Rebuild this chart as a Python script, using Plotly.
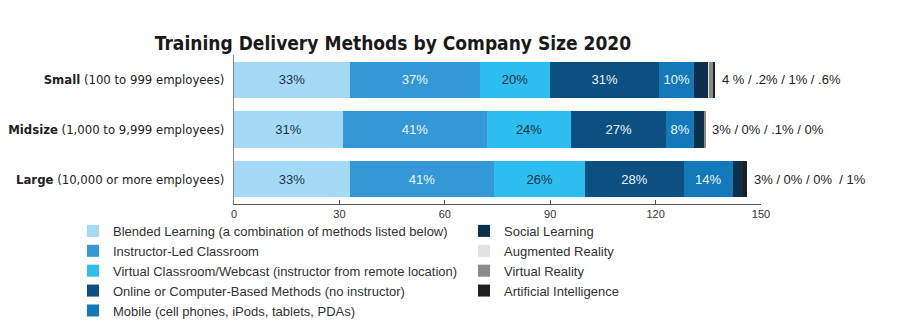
import plotly.graph_objects as go

# Company size groups and their y-axis labels
sizes = ["Small", "Midsize", "Large"]
size_ranges = ["(100 to 999 employees)", "(1,000 to 9,999 employees)", "(10,000 or more employees)"]

# Share of training hours by delivery method (percent)
methods = [
    "Blended Learning (a combination of methods listed below)",
    "Instructor-Led Classroom",
    "Virtual Classroom/Webcast (instructor from remote location)",
    "Online or Computer-Based Methods (no instructor)",
    "Mobile (cell phones, iPods, tablets, PDAs)",
    "Social Learning",
    "Augmented Reality",
    "Virtual Reality",
    "Artificial Intelligence",
]
blended = [33, 31, 33]
instructor_led = [37, 41, 41]
virtual_classroom = [20, 24, 26]
online_cbt = [31, 27, 28]
mobile = [10, 8, 14]
social = [4, 3, 3]
augmented = [0.2, 0, 0]
virtual_reality = [1, 0.1, 0]
artificial_intel = [0.6, 0, 1]

# Social / AR / VR / AI shares listed to the right of each bar
tail_labels = ["4 % / .2% / 1% / .6%", "3% / 0% / .1% / 0%", "3% / 0% / 0%  / 1%"]

x_ticks = [0, 30, 60, 90, 120, 150]

series = [blended, instructor_led, virtual_classroom, online_cbt, mobile,
          social, augmented, virtual_reality, artificial_intel]
colors = ["#a5daf6", "#3498d6", "#2dbdee", "#0b5080", "#1379b8",
          "#0c2f4b", "#e2e2e2", "#8b8b8b", "#221e1f"]
label_colors = ["#1d3347", "#eaf5fc", "#1d3347", "#eaf5fc", "#eaf5fc"]

SANS = "Liberation Sans, Arial, sans-serif"
NARROW = "Liberation Sans Narrow, Arial Narrow, DejaVu Sans Condensed, sans-serif"

fig = go.Figure()
for i, (name, vals, col) in enumerate(zip(methods, series, colors)):
    labelled = i < 5
    fig.add_trace(go.Bar(
        y=sizes,
        x=vals,
        name=name,
        orientation="h",
        marker=dict(color=col, line=dict(width=0)),
        text=[f"{v}%" for v in vals] if labelled else None,
        textposition="inside" if labelled else "none",
        insidetextanchor="middle",
        textangle=0,
        constraintext="none",
        textfont=dict(family=SANS, size=13, color=label_colors[i] if labelled else "#000"),
        legend="legend" if i < 5 else "legend2",
        hoverinfo="name+x",
    ))

# Tail annotations anchored at each bar's total length
totals = [sum(s[k] for s in series) for k in range(len(sizes))]
for size, total, txt in zip(sizes, totals, tail_labels):
    fig.add_annotation(
        x=total, y=size, xref="x", yref="y",
        text=txt, showarrow=False, xanchor="left", xshift=5,
        font=dict(family=SANS, size=13, color="#222222"),
    )

tick_text = [f"<b>{s}</b> {r}" for s, r in zip(sizes, size_ranges)]

fig.update_layout(
    width=901, height=334,
    margin=dict(l=234, r=140, t=55, b=130, autoexpand=False),
    paper_bgcolor="white", plot_bgcolor="white",
    barmode="stack", bargap=0.27,
    title=dict(
        text="<b>Training Delivery Methods by Company Size 2020</b>",
        font=dict(family=NARROW, size=19, color="#1a1a1a"),
        xref="container", yref="container",
        x=393 / 901, y=1 - 43 / 334, xanchor="center", yanchor="middle",
    ),
    xaxis=dict(
        range=[0, 150], tickvals=x_ticks, ticks="inside", ticklen=4,
        tickcolor="#555", showline=True, linecolor="#555", linewidth=1,
        showgrid=False, zeroline=False, automargin=False,
        tickfont=dict(family=SANS, size=11, color="#333"),
    ),
    yaxis=dict(
        categoryorder="array", categoryarray=sizes, autorange="reversed",
        tickvals=sizes, ticktext=tick_text, ticks="", showline=True,
        linecolor="#888", linewidth=1, showgrid=False, zeroline=False,
        ticklabelstandoff=6, automargin=False,
        tickfont=dict(family=NARROW, size=13, color="#222"),
    ),
    legend=dict(
        x=(73 - 234) / 527, y=-0.08, xanchor="left", yanchor="top",
        orientation="v", traceorder="normal",
        font=dict(family=SANS, size=13, color="#333"),
        bgcolor="rgba(0,0,0,0)", tracegroupgap=0,
    ),
    legend2=dict(
        x=(464 - 234) / 527, y=-0.08, xanchor="left", yanchor="top",
        orientation="v", traceorder="normal",
        font=dict(family=SANS, size=13, color="#333"),
        bgcolor="rgba(0,0,0,0)", tracegroupgap=0,
    ),
    showlegend=True,
)

fig.write_html("out.html")
